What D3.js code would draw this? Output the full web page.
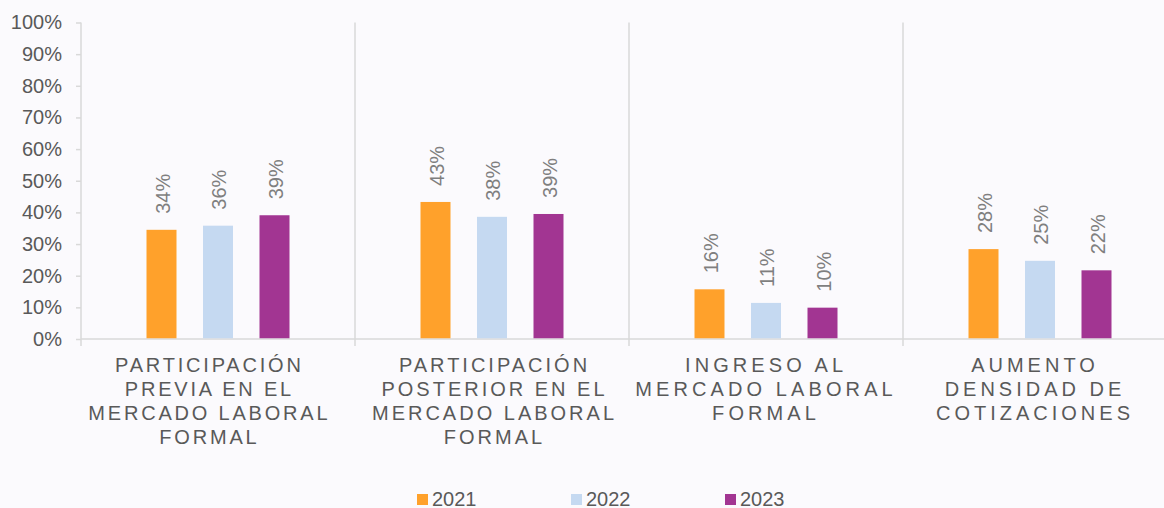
<!DOCTYPE html>
<html><head><meta charset="utf-8">
<script src="https://cdn.jsdelivr.net/npm/d3@7"></script>
<style>
html,body{margin:0;padding:0;background:#fbfafd;}
svg{display:block;font-family:"Liberation Sans",Arial,sans-serif;}
</style></head>
<body><svg id="c" width="1164" height="508"></svg>
<script>
const categories = [
  ["PARTICIPACIÓN","PREVIA EN EL","MERCADO LABORAL","FORMAL"],
  ["PARTICIPACIÓN","POSTERIOR EN EL","MERCADO LABORAL","FORMAL"],
  ["INGRESO AL","MERCADO LABORAL","FORMAL"],
  ["AUMENTO","DENSIDAD DE","COTIZACIONES"]
];
const seriesNames = ["2021","2022","2023"];
const values2021 = [0.345, 0.433, 0.157, 0.284];
const values2022 = [0.358, 0.386, 0.114, 0.247];
const values2023 = [0.391, 0.395, 0.099, 0.217];
const labels2021 = ["34%","43%","16%","28%"];
const labels2022 = ["36%","38%","11%","25%"];
const labels2023 = ["39%","39%","10%","22%"];
const yTicks = [0,0.1,0.2,0.3,0.4,0.5,0.6,0.7,0.8,0.9,1.0];
const colors = ["#ffa12b","#c5d9f1","#a23592"];

(function(){
const series = [values2021, values2022, values2023];
const seriesLabels = [labels2021, labels2022, labels2023];

const svg = d3.select("#c");
const mLeft = 81, mRight = 1177, mTop = 22.5, mBottom = 339;
const x0 = d3.scaleBand().domain(d3.range(categories.length)).range([mLeft, mRight]);
const x1 = d3.scalePoint().domain(seriesNames).range([-56.5, 56.5]);
const y = d3.scaleLinear().domain([0,1]).range([mBottom, mTop]);
const barW = 30;
const axisColor = "#d9d9d9";
// label layout tweaks (style, not data)
const labelShift = [-10, 1, -2, -7];
const labelSpacing = [2.8, 3, 4.1, 4];

// y axis
const yAxis = d3.axisLeft(y).tickValues(yTicks).tickFormat(d3.format(".0%")).tickSize(5).tickPadding(14);
const ya = svg.append("g").attr("transform", `translate(${mLeft},0)`).call(yAxis);
ya.select(".domain").remove();
ya.selectAll(".tick line").attr("stroke", axisColor).attr("stroke-width",1.5);
ya.selectAll(".tick text").attr("fill","#595959").attr("font-size",20).attr("font-family","Liberation Sans, Arial, sans-serif");
svg.append("line").attr("x1",mLeft).attr("x2",mLeft).attr("y1",mTop).attr("y2",mBottom+7).attr("stroke",axisColor).attr("stroke-width",1.5);

// separators
categories.forEach((c,i)=>{
  if(i===0) return;
  const xs = x0(i);
  svg.append("line").attr("x1",xs).attr("x2",xs).attr("y1",mTop).attr("y2",mBottom+7).attr("stroke",axisColor).attr("stroke-width",1.5);
});
// baseline
svg.append("line").attr("x1",mLeft).attr("x2",mRight).attr("y1",mBottom).attr("y2",mBottom).attr("stroke",axisColor).attr("stroke-width",1.5);

// bars
series.forEach((vals,si)=>{
  const g = svg.append("g");
  vals.forEach((v,ci)=>{
    const cx = x0(ci) + x0.bandwidth()/2 + x1(seriesNames[si]);
    g.append("rect").attr("x",cx-barW/2).attr("y",y(v)).attr("width",barW).attr("height",y(0)-y(v)-0.75).attr("fill",colors[si]);
    g.append("text").attr("transform",`translate(${cx+1},${y(v)-16}) rotate(-90)`)
      .attr("dy","0.35em").attr("font-size",20).attr("fill","#7f7f7f").text(seriesLabels[si][ci]);
  });
});

// category labels
categories.forEach((lines,ci)=>{
  const ls = labelSpacing[ci];
  const cx = x0(ci) + x0.bandwidth()/2 + labelShift[ci] + ls/2;
  const t = svg.append("text").attr("text-anchor","middle").attr("font-size",20).attr("fill","#595959").attr("letter-spacing",ls+"px");
  lines.forEach((ln,li)=>{
    t.append("tspan").attr("x",cx).attr("y",371.5+li*24.2).text(ln);
  });
});

// legend
const legX = [417, 571, 725];
seriesNames.forEach((n,i)=>{
  svg.append("rect").attr("x",legX[i]).attr("y",494).attr("width",11).attr("height",11).attr("fill",colors[i]);
  svg.append("text").attr("x",legX[i]+15).attr("y",505.5).attr("font-size",20).attr("fill","#595959").text(n);
});
})();
</script></body></html>
